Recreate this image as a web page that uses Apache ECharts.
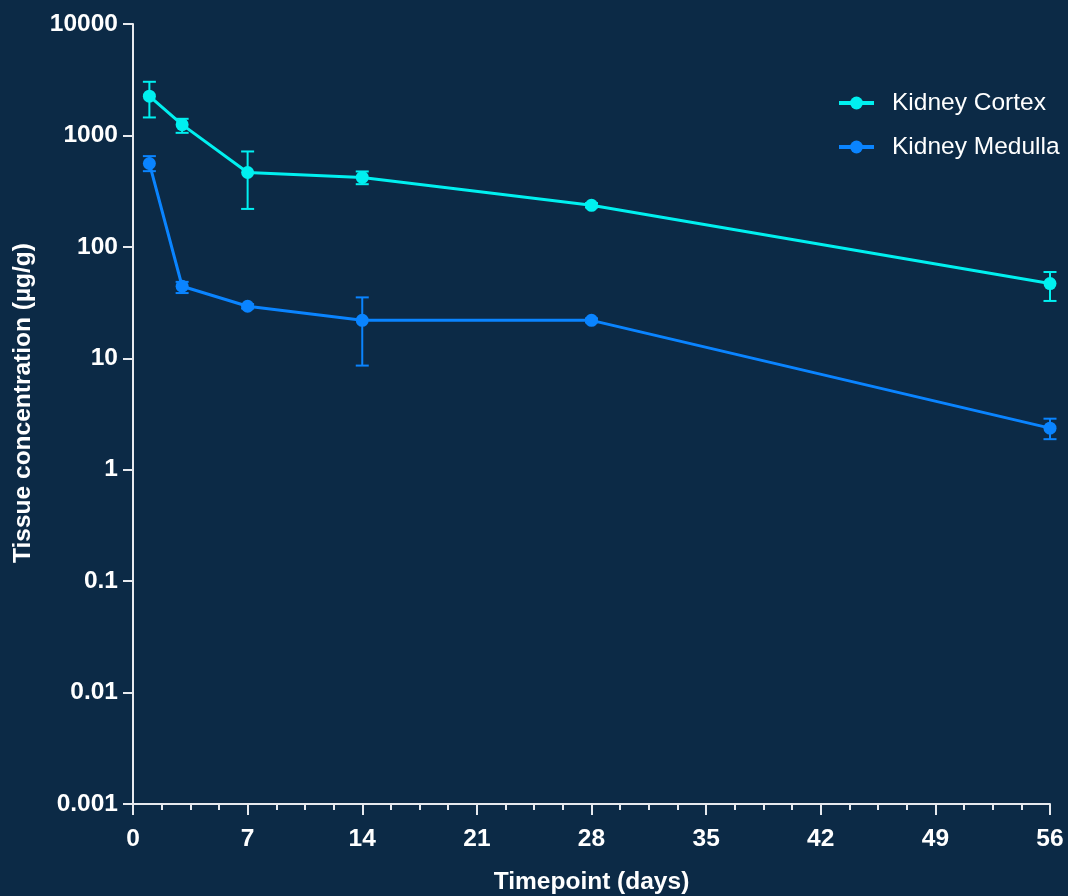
<!DOCTYPE html>
<html>
<head>
<meta charset="utf-8">
<script src="https://cdn.jsdelivr.net/npm/echarts@6/dist/echarts.min.js"></script>
<style>
html,body{margin:0;padding:0;background:#0c2a46;}
#chart{width:1068px;height:896px;}
</style>
</head>
<body>
<div id="chart"></div>
<script>
const days = [1, 3, 7, 14, 28, 56];
const cortexMean = [2250, 1250, 465, 420, 236, 46.8];
const cortexLow  = [1450, 1055, 219, 365, 226, 32.7];
const cortexHigh = [3030, 1410, 718, 475, 247, 59.5];
const medullaMean = [560, 44.3, 29.3, 21.9, 21.9, 2.36];
const medullaLow  = [478, 38.5, 28.0, 8.6, 21.0, 1.88];
const medullaHigh = [652, 48.5, 30.6, 35.2, 22.8, 2.87];
const xTicks = [0, 7, 14, 21, 28, 35, 42, 49, 56];
const yTickLabels = ['0.001', '0.01', '0.1', '1', '10', '100', '1000', '10000'];

const cortexColor = '#00f0f0';
const medullaColor = '#0a84ff';
const axisColor = '#e6e9ee';
const sans = "'Liberation Sans', Arial, sans-serif";

function errData(low, high) {
  return days.map((d, i) => [d, low[i], high[i]]);
}
function errRender(color) {
  return function (params, api) {
    const x = api.value(0);
    const lo = api.coord([x, api.value(1)]);
    const hi = api.coord([x, api.value(2)]);
    const hw = 6.5;
    const st = { stroke: color, lineWidth: 2 };
    return {
      type: 'group',
      children: [
        { type: 'line', shape: { x1: lo[0], y1: lo[1], x2: hi[0], y2: hi[1] }, style: st },
        { type: 'line', shape: { x1: lo[0] - hw, y1: lo[1], x2: lo[0] + hw, y2: lo[1] }, style: st },
        { type: 'line', shape: { x1: hi[0] - hw, y1: hi[1], x2: hi[0] + hw, y2: hi[1] }, style: st }
      ]
    };
  };
}

const chart = echarts.init(document.getElementById('chart'), null, { renderer: 'canvas' });
chart.setOption({
  backgroundColor: '#0c2a46',
  animation: false,
  grid: { left: 133, right: 18, top: 24, bottom: 92, containLabel: false, outerBoundsMode: 'none' },
  legend: {
    orient: 'vertical',
    left: 832,
    top: 83,
    itemWidth: 35,
    itemHeight: 16,
    itemGap: 14,
    data: ['Kidney Cortex', 'Kidney Medulla'],
    lineStyle: { width: 4 },
    textStyle: { color: '#ffffff', fontSize: 24.5, fontFamily: sans, lineHeight: 30, padding: [0, 0, 0, 13] }
  },
  xAxis: {
    type: 'value',
    min: 0, max: 56, interval: 7,
    name: 'Timepoint (days)',
    nameLocation: 'middle',
    nameGap: 66,
    nameTextStyle: { color: '#ffffff', fontSize: 24.5, fontWeight: 'bold', fontFamily: sans },
    axisLine: { show: true, lineStyle: { color: axisColor, width: 2 } },
    axisTick: { show: true, length: 11, lineStyle: { color: axisColor, width: 2 } },
    minorTick: { show: true, splitNumber: 4, length: 6, lineStyle: { color: axisColor, width: 2 } },
    axisLabel: { color: '#ffffff', fontSize: 24.5, fontWeight: 'bold', fontFamily: sans, margin: 23,
      formatter: v => xTicks.indexOf(v) >= 0 ? String(v) : '' },
    splitLine: { show: false },
    minorSplitLine: { show: false }
  },
  yAxis: {
    type: 'log',
    logBase: 10,
    min: 0.001, max: 10000,
    axisLine: { show: true, lineStyle: { color: axisColor, width: 2 } },
    axisTick: { show: true, length: 10, lineStyle: { color: axisColor, width: 2 } },
    minorTick: { show: false },
    axisLabel: { color: '#ffffff', fontSize: 24.5, fontWeight: 'bold', fontFamily: sans, margin: 15,
      formatter: v => { const k = Math.round(Math.log10(v)) + 3; return yTickLabels[k] || ''; } },
    splitLine: { show: false }
  },
  graphic: [{
    type: 'text',
    x: 23, y: 403,
    rotation: Math.PI / 2,
    style: {
      text: 'Tissue concentration (µg/g)',
      fill: '#ffffff',
      font: "bold 24.5px 'Liberation Sans', Arial, sans-serif",
      textAlign: 'center',
      textVerticalAlign: 'middle'
    }
  }],
  series: [
    {
      type: 'custom', name: 'cortexErr', renderItem: errRender(cortexColor),
      data: errData(cortexLow, cortexHigh), z: 1, silent: true, encode: { x: 0, y: [1, 2] }
    },
    {
      type: 'custom', name: 'medullaErr', renderItem: errRender(medullaColor),
      data: errData(medullaLow, medullaHigh), z: 1, silent: true, encode: { x: 0, y: [1, 2] }
    },
    {
      name: 'Kidney Cortex', type: 'line', z: 3,
      data: days.map((d, i) => [d, cortexMean[i]]),
      symbol: 'circle', symbolSize: 13,
      lineStyle: { color: cortexColor, width: 3 },
      itemStyle: { color: cortexColor }
    },
    {
      name: 'Kidney Medulla', type: 'line', z: 3,
      data: days.map((d, i) => [d, medullaMean[i]]),
      symbol: 'circle', symbolSize: 13,
      lineStyle: { color: medullaColor, width: 3 },
      itemStyle: { color: medullaColor }
    }
  ]
});
</script>
</body>
</html>
